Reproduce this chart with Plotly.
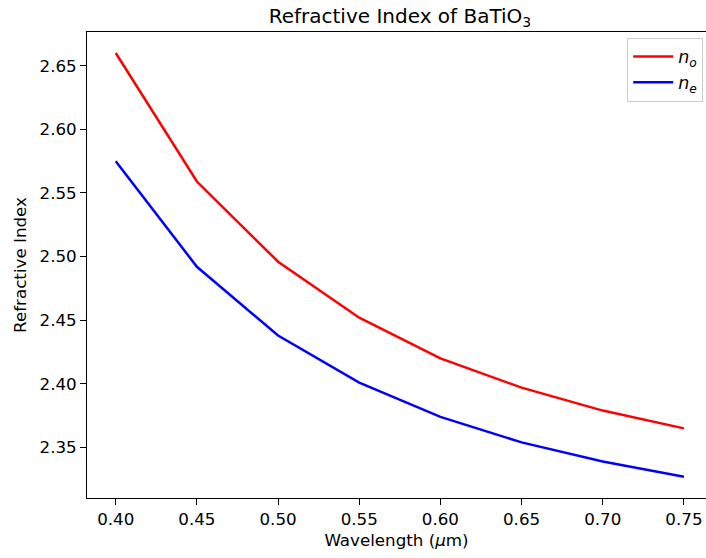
import plotly.graph_objects as go

# Wavelength (µm) and ordinary / extraordinary refractive indices of BaTiO3
wavelength = [0.40, 0.45, 0.50, 0.55, 0.60, 0.65, 0.70, 0.75]
n_o = [2.660, 2.559, 2.496, 2.452, 2.420, 2.397, 2.379, 2.365]
n_e = [2.575, 2.492, 2.438, 2.401, 2.374, 2.354, 2.339, 2.327]

x_ticks = [0.40, 0.45, 0.50, 0.55, 0.60, 0.65, 0.70, 0.75]
y_ticks = [2.35, 2.40, 2.45, 2.50, 2.55, 2.60, 2.65]

FONT = "DejaVu Sans"
TICK_SIZE = 16.7

fig = go.Figure()
fig.add_trace(go.Scatter(
    x=wavelength, y=n_o, mode="lines",
    name="<i>n</i><sub><i>o</i></sub>",
    line=dict(color="#ff0000", width=2.5),
))
fig.add_trace(go.Scatter(
    x=wavelength, y=n_e, mode="lines",
    name="<i>n</i><sub><i>e</i></sub>",
    line=dict(color="#0000ff", width=2.5),
))

axis_common = dict(
    showgrid=False, zeroline=False,
    showline=True, linecolor="black", linewidth=1.3,
    ticks="outside", ticklen=5.8, tickwidth=1.3, tickcolor="black",
    tickfont=dict(family=FONT, size=TICK_SIZE, color="black"),
)

fig.update_xaxes(
    **axis_common,
    mirror=True,
    range=[0.3823, 0.7636],
    tickvals=x_ticks,
    ticktext=[f"{v:.2f}" for v in x_ticks],
    title=dict(text="Wavelength (<i>μ</i>m)",
               font=dict(family=FONT, size=TICK_SIZE, color="black"),
               standoff=6),
)
fig.update_yaxes(
    **axis_common,
    range=[2.3103, 2.6765],
    tickvals=y_ticks,
    ticktext=[f"{v:.2f}" for v in y_ticks],
    title=dict(text="Refractive Index",
               font=dict(family=FONT, size=TICK_SIZE, color="black"),
               standoff=8),
)

fig.update_layout(
    width=706, height=558,
    margin=dict(l=87, r=0, t=32, b=60),
    paper_bgcolor="white", plot_bgcolor="white",
    font=dict(family=FONT, color="black"),
    title=dict(
        text="Refractive Index of BaTiO<sub>3</sub>",
        font=dict(family=FONT, size=20, color="black"),
        xref="container", x=400 / 706, xanchor="center",
        yref="container", y=1 - 16 / 558, yanchor="middle",
    ),
    legend=dict(
        x=0.9955, xanchor="right", y=0.988, yanchor="top",
        bgcolor="rgba(255,255,255,0.8)",
        bordercolor="#cccccc", borderwidth=1,
        itemwidth=40,
        font=dict(family=FONT, size=17.5, color="black"),
    ),
    showlegend=True,
)

fig.write_html("out.html")
